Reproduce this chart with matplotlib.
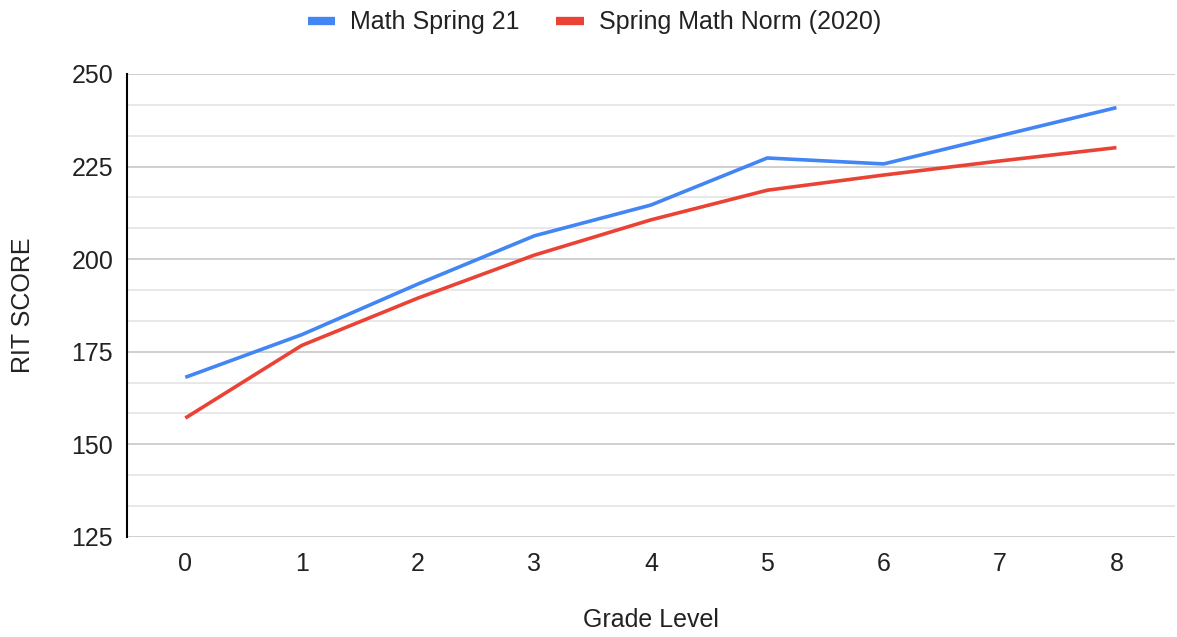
import matplotlib.pyplot as plt
from matplotlib.ticker import MultipleLocator

plt.rcParams['font.family'] = ['Liberation Sans', 'DejaVu Sans']

# data
grades = [0, 1, 2, 3, 4, 5, 6, 7, 8]
math_spring_21 = [168.1, 179.6, 193.3, 206.3, 214.6, 227.3, 225.7, 233.3, 240.9]
norm_2020 = [157.1, 176.7, 189.5, 201.1, 210.6, 218.6, 222.7, 226.5, 230.1]

fig = plt.figure(figsize=(11.77, 6.37), dpi=100)
ax = fig.add_axes([0.108, 0.157, 0.890, 0.727])

ax.plot(grades, math_spring_21, color='#4285F4', lw=2.6, label='Math Spring 21',
        solid_capstyle='butt', zorder=3)
ax.plot(grades, norm_2020, color='#EA4335', lw=2.6, label='Spring Math Norm (2020)',
        solid_capstyle='butt', zorder=3)

ax.set_xlim(-0.5, 8.5)
ax.set_ylim(125, 250)
ax.set_xticks(grades)
ax.yaxis.set_major_locator(MultipleLocator(25))
ax.yaxis.set_minor_locator(MultipleLocator(25 / 3))
ax.grid(axis='y', which='major', color='#cccccc', lw=1.3, zorder=0)
ax.grid(axis='y', which='minor', color='#e6e6e6', lw=1.3, zorder=0)
ax.tick_params(which='both', length=0, labelsize=18, colors='#222222')
ax.tick_params(axis='x', pad=11)
ax.tick_params(axis='y', pad=10)

for s in ['top', 'right', 'bottom']:
    ax.spines[s].set_visible(False)
ax.spines['left'].set_color('black')
ax.spines['left'].set_linewidth(1.5)

ax.set_xlabel('Grade Level', fontsize=18, color='#222222', labelpad=23)
ax.set_ylabel('RIT SCORE', fontsize=18, color='#222222')
ax.yaxis.set_label_coords(-0.088, 0.5)

fig.legend(loc='center', bbox_to_anchor=(0.505, 0.965), ncol=2, frameon=False,
           fontsize=18, handlelength=1.1, handletextpad=0.6, columnspacing=1.45,
           labelcolor='#222222', handleheight=0.7)
for h in fig.legends[0].legend_handles:
    h.set_linewidth(6)

fig.savefig('out.png', dpi=100)
